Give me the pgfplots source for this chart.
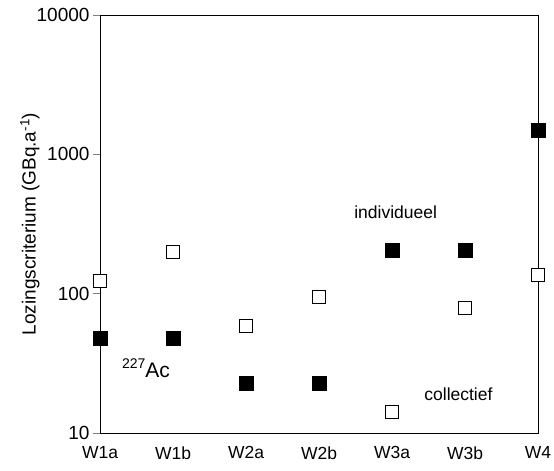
\documentclass[border=0pt]{standalone}
\usepackage{fontspec}
\setmainfont{Liberation Sans}
\usepackage{pgfplots}
\pgfplotsset{compat=1.18}
\newcommand{\tl}[1]{{\fontsize{19}{22}\selectfont #1}}
\begin{document}
\begin{tikzpicture}
\begin{axis}[
  scale only axis,
  width=438pt, height=418pt,
  ymode=log,
  xmin=0, xmax=6,
  ymin=10, ymax=10000,
  xtick={0,1,2,3,4,5,6},
  xticklabels={W1a,W1b,W2a,W2b,W3a,W3b,W4},
  ytick={10,100,1000,10000},
  yticklabels={\tl{10},\tl{100},\tl{1000},\tl{10000}},
  yminorticks=false,
  ytick pos=left,
  tick align=outside,
  major tick length=7pt,
  xtick style={draw=none},
  ytick style={line width=0.9pt},
  axis line style={line width=0.9pt},
  xticklabel style={font=\fontsize{17.5}{20}\selectfont, yshift=-3pt},
  clip=false,
]
\coordinate (sw) at (rel axis cs:0,0);
\coordinate (ne) at (rel axis cs:1,1);
% collectief (open)
\addplot[only marks, mark=square*, mark size=6.5pt, mark options={fill=white, draw=black, line width=1pt}]
  coordinates {(0,123) (1,200) (2,59) (3,94) (4,14.1) (5,79) (6,136)};
% individueel (filled)
\addplot[only marks, mark=square*, mark size=7pt, mark options={fill=black, draw=black}]
  coordinates {(0,48) (1,48) (2,22.6) (3,22.6) (4,206) (5,206) (6,1480)};
\node[font=\fontsize{17.5}{20}\selectfont] at (axis cs:4.05,386) {individueel};
\node[font=\fontsize{17.5}{20}\selectfont] at (axis cs:4.91,19.05) {collectief};
\node[anchor=base west, inner sep=0pt] at (axis cs:0.30,25.2)
  {\raisebox{9pt}{\fontsize{14}{14}\selectfont 227}{\fontsize{21}{22}\selectfont Ac}};
\node[rotate=90, font=\fontsize{19}{22}\selectfont] at (rel axis cs:-0.16,0.5)
  {Lozingscriterium (GBq.a\textsuperscript{-1})};
\end{axis}
\pgfresetboundingbox
\path ([shift={(-100pt,-38pt)}]sw) rectangle ([shift={(16pt,15pt)}]ne);
\end{tikzpicture}
\end{document}
